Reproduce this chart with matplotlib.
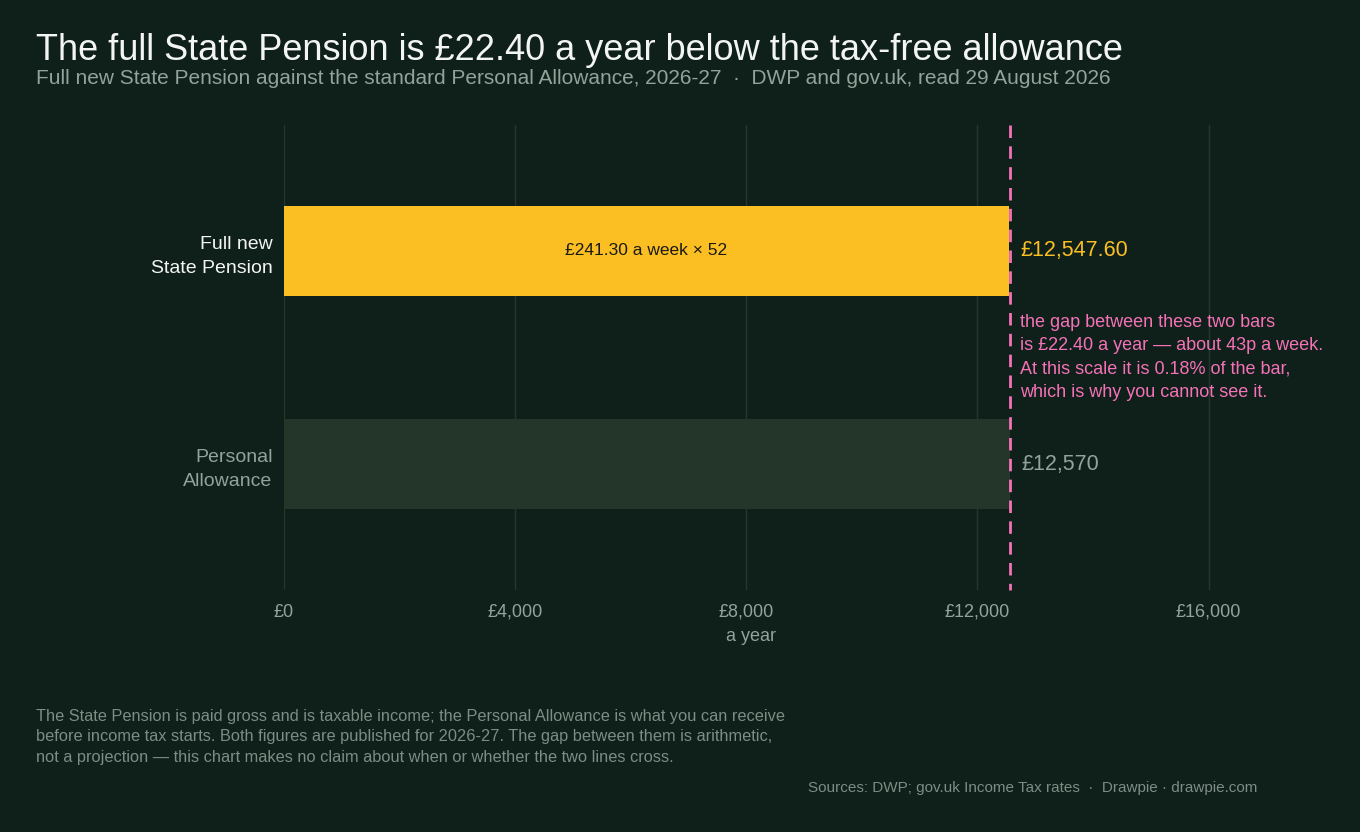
import matplotlib.pyplot as plt

plt.rcParams['font.family'] = ['Liberation Sans', 'DejaVu Sans']

categories = ["Full new\nState Pension", "Personal\nAllowance"]
values = [12547.60, 12570]
value_labels = ["£12,547.60", "£12,570"]
ticks = [0, 4000, 8000, 12000, 16000]
tick_labels = ["£0", "£4,000", "£8,000", "£12,000", "£16,000"]
allowance = 12570

BG = "#0f1f1a"
YELLOW = "#fbbf24"
DARK_BAR = "#233629"
PINK = "#f472b6"
GRID = "#26362f"
MUTED = "#93a39b"
WHITE = "#f2f5f3"

fig = plt.figure(figsize=(13.6, 8.32), dpi=100, facecolor=BG)
# x scale: 0 -> 283.5 px, 16000 -> 1208.5 px; axes right edge at 1219 px
ax = fig.add_axes([283.5 / 1360, 1 - 590 / 832, (1219 - 283.5) / 1360, 465 / 832])
ax.set_facecolor(BG)

ypos = [0, 1]
ax.barh(ypos, values, height=0.42, color=[YELLOW, DARK_BAR], zorder=2)
ax.set_xlim(0, (1219 - 283.5) * 16000 / 925)
ax.set_ylim(1.59, -0.59)

for t in ticks:
    ax.axvline(t, color=GRID, lw=1, zorder=1)
ax.plot([allowance, allowance], [-0.59, 1.59], color=PINK, lw=2,
        ls=(0, (4.5, 3)), zorder=3, clip_on=False)

ax.set_xticks(ticks)
ax.set_xticklabels(tick_labels, color=MUTED, fontsize=13)
ax.tick_params(axis='x', length=0, pad=10)
ax.set_xlabel("a year", color=MUTED, fontsize=13, labelpad=5)
ax.set_yticks(ypos)
ax.set_yticklabels(categories, fontsize=14, ha='right', linespacing=1.55)
ax.get_yticklabels()[0].set_color(WHITE)
ax.get_yticklabels()[1].set_color(MUTED)
ax.tick_params(axis='y', length=0, pad=8)
for s in ax.spines.values():
    s.set_visible(False)

ax.text(values[0] / 2, 0, "£241.30 a week × 52", ha='center', va='center',
        fontsize=12.5, color="#1a1a10")
ax.text(values[0] + 190, 0, value_labels[0], ha='left', va='center',
        fontsize=15.5, color=YELLOW, clip_on=False)
ax.text(values[1] + 190, 1, value_labels[1], ha='left', va='center',
        fontsize=15.5, color=MUTED, clip_on=False)
ax.text(allowance + 170, 0.5, "the gap between these two bars\n"
        "is £22.40 a year — about 43p a week.\n"
        "At this scale it is 0.18% of the bar,\n"
        "which is why you cannot see it.",
        ha='left', va='center', fontsize=13, color=PINK, linespacing=1.5,
        clip_on=False)

fig.text(36 / 1360, 1 - 51 / 832, "The full State Pension is £22.40 a year below the tax-free allowance",
         fontsize=26, color=WHITE, va='center', ha='left')
fig.text(36 / 1360, 1 - 79 / 832,
         "Full new State Pension against the standard Personal Allowance, 2026-27  ·  DWP and gov.uk, read 29 August 2026",
         fontsize=15, color=MUTED, va='center', ha='left')
fig.text(36 / 1360, 1 - 737 / 832,
         "The State Pension is paid gross and is taxable income; the Personal Allowance is what you can receive\n"
         "before income tax starts. Both figures are published for 2026-27. The gap between them is arithmetic,\n"
         "not a projection — this chart makes no claim about when or whether the two lines cross.",
         fontsize=11.75, color="#7d8c84", va='center', ha='left', linespacing=1.45)
fig.text(1257 / 1360, 1 - 788 / 832,
         "Sources: DWP; gov.uk Income Tax rates  ·  Drawpie · drawpie.com",
         fontsize=11, color="#7d8c84", va='center', ha='right')

fig.savefig("out.png", dpi=100, facecolor=BG)
